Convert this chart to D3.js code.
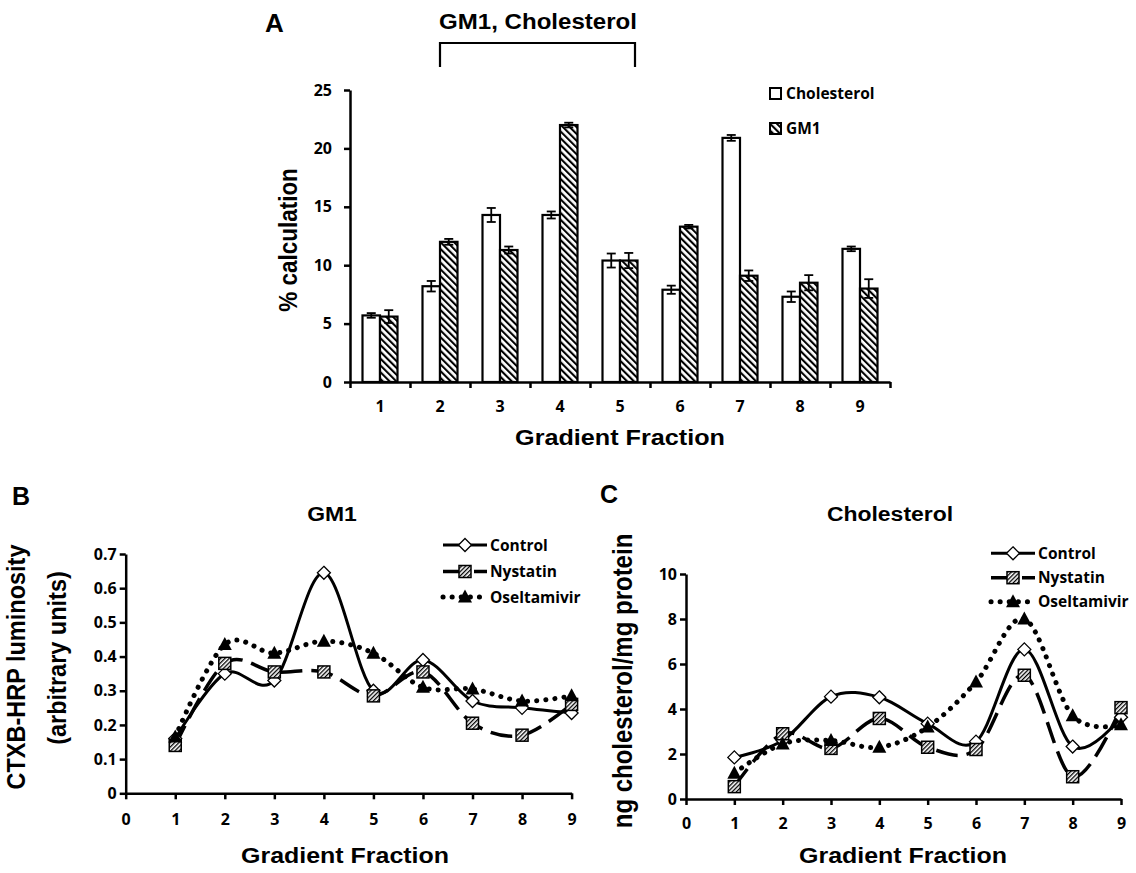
<!DOCTYPE html>
<html><head><meta charset="utf-8">
<script src="https://cdn.jsdelivr.net/npm/d3@7"></script>
<style>body{margin:0;background:#fff} svg{display:block}</style>
</head><body>
<script>
// ---------- DATA ----------
const fractions = [1, 2, 3, 4, 5, 6, 7, 8, 9];
const barSeries = ["Cholesterol", "GM1"];
const cholPct = [5.7, 8.2, 14.3, 14.3, 10.4, 7.9, 20.9, 7.3, 11.4];
const cholErr = [0.2, 0.45, 0.6, 0.3, 0.6, 0.35, 0.25, 0.45, 0.2];
const gm1Pct  = [5.6, 12.0, 11.3, 22.0, 10.4, 13.3, 9.1, 8.5, 8.0];
const gm1Err  = [0.55, 0.25, 0.3, 0.2, 0.65, 0.15, 0.45, 0.65, 0.8];
const pctTicks = [0, 5, 10, 15, 20, 25];

const lineSeries = ["Control", "Nystatin", "Oseltamivir"];
const gm1Control = [0.16, 0.35, 0.33, 0.645, 0.30, 0.39, 0.27, 0.25, 0.235];
const gm1Nystatin = [0.14, 0.38, 0.355, 0.355, 0.285, 0.355, 0.205, 0.17, 0.26];
const gm1Oseltamivir = [0.165, 0.435, 0.41, 0.445, 0.41, 0.31, 0.305, 0.27, 0.285];
const gm1Ticks = [0, 0.1, 0.2, 0.3, 0.4, 0.5, 0.6, 0.7];

const cholControl = [1.85, 2.6, 4.55, 4.52, 3.35, 2.55, 6.65, 2.33, 3.63];
const cholNystatin = [0.55, 2.9, 2.25, 3.58, 2.3, 2.2, 5.5, 0.99, 4.06];
const cholOseltamivir = [1.15, 2.45, 2.6, 2.3, 3.2, 5.2, 8.0, 3.7, 3.3];
const cholTicks = [0, 2, 4, 6, 8, 10];
const fracTicks = [0, 1, 2, 3, 4, 5, 6, 7, 8, 9];

// ---------- SETUP ----------
const W = 1136, H = 873;
const svg = d3.select("body").append("svg").attr("width", W).attr("height", H);
svg.append("rect").attr("width", W).attr("height", H).attr("fill", "#fff");
const defs = svg.append("defs");
function hatch(id, size, bw, angle) {
  const p = defs.append("pattern").attr("id", id).attr("patternUnits", "userSpaceOnUse")
    .attr("width", size).attr("height", size).attr("patternTransform", `rotate(${angle})`);
  p.append("rect").attr("width", size).attr("height", size).attr("fill", "#fff");
  p.append("rect").attr("width", bw).attr("height", size).attr("fill", "#000");
}
hatch("barHatch", 4.8, 2.1, -45);
hatch("mkHatch", 3, 1.3, 45);

const TF = "'Liberation Sans', Arial, sans-serif";
const LF = "'Open Sans', sans-serif";
const SX = 1.12;
function stext(x, y, str, size, rot) {
  return svg.append("text")
    .attr("transform", `translate(${x},${y}) scale(${SX},1)` + (rot ? " rotate(-90)" : ""))
    .attr("text-anchor", "middle").attr("font-family", TF).attr("font-weight", 700)
    .attr("font-size", size).attr("fill", "#000").text(str);
}
function styleAxis(g, size) {
  g.select(".domain").attr("stroke", "#000").attr("stroke-width", 2.5);
  g.selectAll(".tick line").attr("stroke", "#000").attr("stroke-width", 2.5);
  g.selectAll(".tick text").attr("font-family", LF).attr("font-weight", 700)
    .attr("font-size", size || 16).attr("fill", "#000");
}

// ---------- PANEL A ----------
const xA = d3.scaleBand().domain(fractions).range([350, 890]);
const xEdgeA = d3.scaleLinear().domain([0, 9]).range([350, 890]);
const yA = d3.scaleLinear().domain([0, 25]).range([382, 90]);
const xInner = d3.scaleBand().domain(barSeries).range([12.5, 47.5]);

svg.append("text").attr("x", 265).attr("y", 32).attr("font-family", TF).attr("font-weight", 700)
  .attr("font-size", 26).text("A");
stext(538, 29, "GM1, Cholesterol", 21.5);
svg.append("path").attr("fill", "none").attr("stroke", "#000").attr("stroke-width", 2.2)
  .attr("d", d3.line()([[xA(2) + 30, 67], [xA(2) + 30, 43], [xA(5) + 45, 43], [xA(5) + 45, 67]]));

const gyA = svg.append("g").attr("transform", "translate(350,0)")
  .call(d3.axisLeft(yA).tickValues(pctTicks).tickSize(6).tickSizeOuter(0).tickPadding(12));
styleAxis(gyA);
const gxA = svg.append("g").attr("transform", "translate(0,382)")
  .call(d3.axisBottom(xEdgeA).tickValues(fracTicks).tickFormat("").tickSize(6).tickSizeOuter(0));
styleAxis(gxA);
const gxAl = svg.append("g").attr("transform", "translate(0,382)")
  .call(d3.axisBottom(xA).tickSize(0).tickPadding(19));
gxAl.select(".domain").remove();
styleAxis(gxAl);

const barData = fractions.map((f, i) => [
  { f, s: "Cholesterol", v: cholPct[i], e: cholErr[i] },
  { f, s: "GM1", v: gm1Pct[i], e: gm1Err[i] }
]).flat();
const bw = xInner.bandwidth();
svg.append("g").selectAll("rect").data(barData).join("rect")
  .attr("x", d => xA(d.f) + xInner(d.s)).attr("width", bw)
  .attr("y", d => yA(d.v)).attr("height", d => yA(0) - yA(d.v))
  .attr("fill", d => d.s === "GM1" ? "url(#barHatch)" : "#fff")
  .attr("stroke", "#000").attr("stroke-width", 2.2);
const eg = svg.append("g").attr("stroke", "#000").attr("stroke-width", 1.8);
barData.forEach(d => {
  const cx = xA(d.f) + xInner(d.s) + bw / 2;
  eg.append("line").attr("x1", cx).attr("x2", cx).attr("y1", yA(d.v - d.e)).attr("y2", yA(d.v + d.e));
  [d.v - d.e, d.v + d.e].forEach(v => eg.append("line").attr("x1", cx - 4.5).attr("x2", cx + 4.5)
    .attr("y1", yA(v)).attr("y2", yA(v)));
});
stext(297, 240, "% calculation", 22.5, true);
stext(620, 445, "Gradient Fraction", 22.5);

// legend A
barSeries.forEach((s, i) => {
  const y = 88 + i * 35;
  svg.append("rect").attr("x", 770).attr("y", y).attr("width", 11).attr("height", 11)
    .attr("fill", s === "GM1" ? "url(#barHatch)" : "#fff").attr("stroke", "#000").attr("stroke-width", 2);
  svg.append("text").attr("x", 786).attr("y", y + 10.5).attr("font-family", LF).attr("font-weight", 700)
    .attr("font-size", 15.5).attr("fill", "#000").text(s);
});

// ---------- LINE PANELS ----------
const styles = {
  Control: { dash: null, w: 3, cap: "butt", mk: "diamond" },
  Nystatin: { dash: "22,9", w: 3.5, cap: "butt", mk: "square" },
  Oseltamivir: { dash: "0.1,9", w: 5, cap: "round", mk: "triangle" }
};
function marker(g, type, x, y) {
  if (type === "diamond") {
    g.append("path").attr("d", `M${x},${y - 6.5}L${x + 6.5},${y}L${x},${y + 6.5}L${x - 6.5},${y}Z`)
      .attr("fill", "#fff").attr("stroke", "#000").attr("stroke-width", 1.3);
  } else if (type === "square") {
    g.append("rect").attr("x", x - 6).attr("y", y - 6).attr("width", 12).attr("height", 12)
      .attr("fill", "url(#mkHatch)").attr("stroke", "#000").attr("stroke-width", 1.5);
  } else {
    g.append("path").attr("d", `M${x},${y - 7.5}L${x + 7},${y + 5.5}L${x - 7},${y + 5.5}Z`).attr("fill", "#000");
  }
}
function linePanel(cfg) {
  const x = d3.scaleLinear().domain([0, 9]).range(cfg.xr);
  const y = d3.scaleLinear().domain(cfg.yd).range(cfg.yr);
  const gy = svg.append("g").attr("transform", `translate(${cfg.xr[0]},0)`)
    .call(d3.axisLeft(y).tickValues(cfg.yTicks).tickSize(6).tickSizeOuter(0).tickPadding(3).tickFormat(cfg.fmt));
  styleAxis(gy);
  const gx = svg.append("g").attr("transform", `translate(0,${cfg.yr[0]})`)
    .call(d3.axisBottom(x).tickValues(fracTicks).tickSize(6).tickSizeOuter(0).tickPadding(cfg.xPad));
  styleAxis(gx);
  const line = d3.line().x((d, i) => x(fractions[i])).y(d => y(d)).curve(d3.curveCardinal.tension(0));
  const lg = svg.append("g"), mg = svg.append("g");
  lineSeries.forEach((s, k) => {
    const st = styles[s], vals = cfg.data[k];
    lg.append("path").attr("d", line(vals)).attr("fill", "none").attr("stroke", "#000")
      .attr("stroke-width", st.w).attr("stroke-dasharray", st.dash).attr("stroke-linecap", st.cap);
    vals.forEach((v, i) => marker(mg, st.mk, x(fractions[i]), y(v)));
    // legend
    const ly = cfg.leg.y[k];
    svg.append("line").attr("x1", cfg.leg.x0).attr("x2", cfg.leg.x1).attr("y1", ly).attr("y2", ly)
      .attr("stroke", "#000").attr("stroke-width", st.w).attr("stroke-dasharray", st.dash)
      .attr("stroke-linecap", st.cap);
    marker(svg, st.mk, (cfg.leg.x0 + cfg.leg.x1) / 2, ly);
    svg.append("text").attr("x", cfg.leg.x1 + 3).attr("y", ly + 5.5).attr("font-family", LF)
      .attr("font-weight", 700).attr("font-size", 15.5).attr("fill", "#000").text(s);
  });
}

// Panel B
svg.append("text").attr("x", 12).attr("y", 505).attr("font-family", TF).attr("font-weight", 700)
  .attr("font-size", 25).text("B");
stext(332, 521, "GM1", 20.5);
linePanel({
  xr: [125.7, 571.6], yd: [0, 0.7], yr: [793.3, 554], yTicks: gm1Ticks,
  fmt: d => d === 0 ? "0" : d3.format(".1f")(d), xPad: 14,
  data: [gm1Control, gm1Nystatin, gm1Oseltamivir],
  leg: { x0: 443, x1: 487, y: [545, 571.5, 597] }
});
stext(25, 667, "CTXB-HRP luminosity", 23.5, true);
stext(66, 658, "(arbitrary units)", 23.5, true);
stext(345, 863, "Gradient Fraction", 22.3);

// Panel C
svg.append("text").attr("x", 600).attr("y", 503).attr("font-family", TF).attr("font-weight", 700)
  .attr("font-size", 25).text("C");
stext(890, 521, "Cholesterol", 20.5);
linePanel({
  xr: [686, 1121], yd: [0, 10], yr: [799, 574], yTicks: cholTicks,
  fmt: d3.format("d"), xPad: 13,
  data: [cholControl, cholNystatin, cholOseltamivir],
  leg: { x0: 991, x1: 1035, y: [553.3, 577.7, 601.7] }
});
stext(632, 681, "ng cholesterol/mg protein", 24, true);
stext(903, 863, "Gradient Fraction", 22.3);
</script>
</body></html>
